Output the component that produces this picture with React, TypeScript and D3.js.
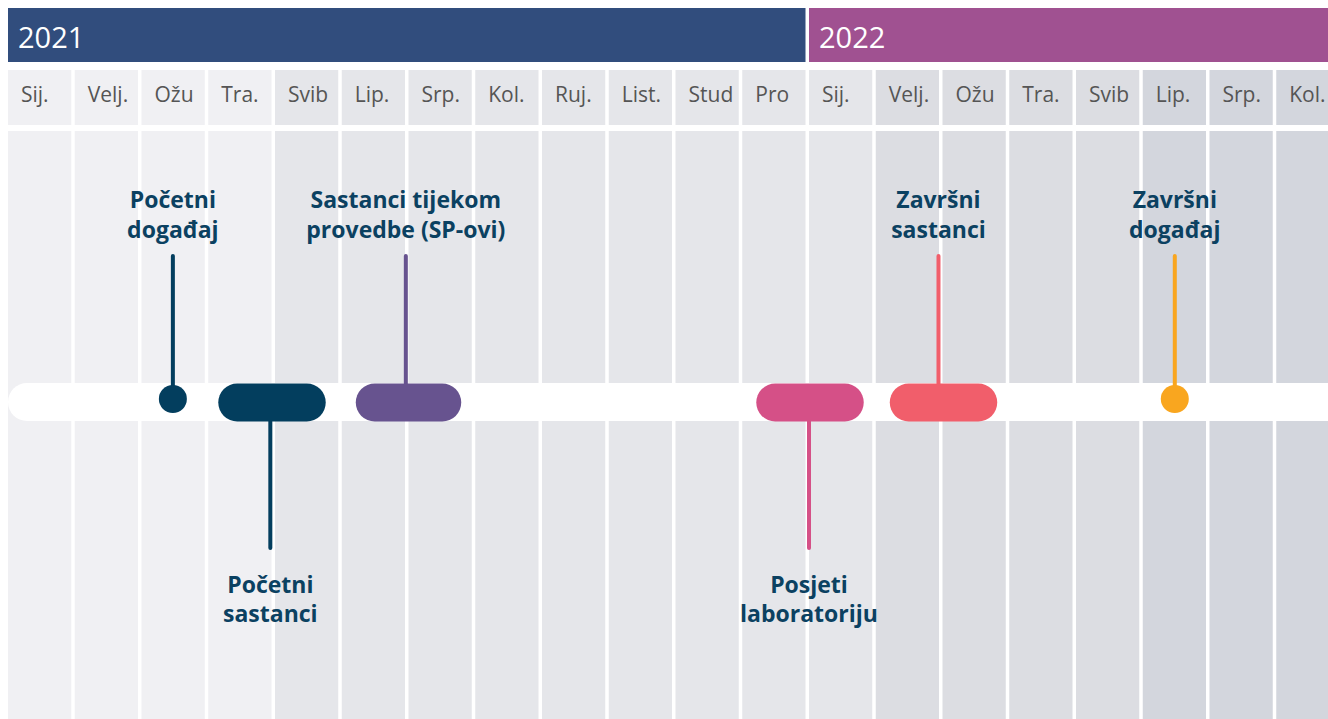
import React, { useLayoutEffect } from 'react';
import * as d3 from 'd3';

const months = ["Sij.", "Velj.", "Ožu", "Tra.", "Svib", "Lip.", "Srp.", "Kol.", "Ruj.", "List.", "Stud", "Pro", "Sij.", "Velj.", "Ožu", "Tra.", "Svib", "Lip.", "Srp.", "Kol."];
const monthShade = [0, 0, 0, 0, 1, 1, 1, 1, 1, 1, 1, 1, 1, 2, 2, 2, 2, 3, 3, 3];
const shadeColors = ["#f0f0f3", "#e5e6ea", "#dcdde2", "#d3d6dd"];

const years = ["2021", "2022"];
const yearStart = [0, 12];
const yearEnd = [12, 20];
const yearColors = ["#314d7d", "#a05191"];

const eventLines = [
  ["Početni", "događaj"],
  ["Početni", "sastanci"],
  ["Sastanci tijekom", "provedbe (SP-ovi)"],
  ["Posjeti", "laboratoriju"],
  ["Završni", "sastanci"],
  ["Završni", "događaj"],
];
// positions in months since Jan 2021
const eventStart = [2.47, 3.15, 5.21, 11.21, 13.21, 17.48];
const eventEnd = [2.47, 4.76, 6.79, 12.82, 14.82, 17.48];
const eventAt = [2.47, 3.93, 5.96, 12.0, 13.94, 17.48];
const eventSide = ["up", "down", "up", "down", "up", "up"];
const eventColors = ["#033e5e", "#033e5e", "#67538f", "#d55087", "#f15e6b", "#f9a61f"];

const W = 1320;
const H = 711;
const PITCH = 66.75;
const GAP = 3.5;
const labelColor = "#0b4161";
const FONT = "'Open Sans', sans-serif";

export default function App() {
  useLayoutEffect(() => {
    document.documentElement.style.overflow = 'hidden';
    document.body.style.margin = '0';
  }, []);

  const x = d3.scaleLinear().domain([0, 20]).range([0, 20 * PITCH]);

  const yearTop = 0, yearBottom = 54;
  const monthTop = 62, monthBottom = 117;
  const bodyTop = 123;
  const bandTop = 375, bandBottom = 413;
  const bandH = bandBottom - bandTop;
  const circleY = 391;
  const circleR = 14;
  const upLineTop = 248;
  const downLineBottom = 540;

  return (
    <svg width={W} height={H} style={{ display: 'block', marginLeft: 8, marginTop: 8 }}>
      {years.map((y, i) => (
        <g key={'y' + i}>
          <rect x={x(yearStart[i])} y={yearTop} width={x(yearEnd[i]) - x(yearStart[i]) - GAP + (i === 1 ? 40 : 0)} height={yearBottom - yearTop} fill={yearColors[i]} />
          <text x={x(yearStart[i]) + 10} y={40} fill="#fff" fontFamily={FONT} fontSize={29}>{y}</text>
        </g>
      ))}
      {months.map((m, i) => (
        <g key={'m' + i}>
          <rect x={x(i)} y={monthTop} width={PITCH - GAP + (i === 19 ? 20 : 0)} height={monthBottom - monthTop} fill={shadeColors[monthShade[i]]} />
          <rect x={x(i)} y={bodyTop} width={PITCH - GAP + (i === 19 ? 20 : 0)} height={H - bodyTop + 10} fill={shadeColors[monthShade[i]]} />
          <text x={x(i) + 13} y={93.5} fill="#555" fontFamily={FONT} fontSize={21}>{m}</text>
        </g>
      ))}
      <rect x={0} y={bandTop} width={W + 40} height={bandH} rx={bandH / 2} fill="#fff" />
      {eventLines.map((lines, i) => {
        const ax = x(eventAt[i]);
        const isPoint = eventStart[i] === eventEnd[i];
        const up = eventSide[i] === 'up';
        const c = eventColors[i];
        const lineY1 = up ? upLineTop : (isPoint ? circleY : bandBottom - 4);
        const lineY2 = up ? (isPoint ? circleY : bandTop + 4) : downLineBottom;
        const base = up ? [200, 230] : [585, 614];
        return (
          <g key={'e' + i}>
            <line x1={ax} x2={ax} y1={lineY1} y2={lineY2} stroke={c} strokeWidth={4} strokeLinecap="round" />
            {isPoint ? (
              <circle cx={x(eventStart[i])} cy={circleY} r={circleR} fill={c} />
            ) : (
              <rect x={x(eventStart[i])} y={bandTop + 0.5} width={x(eventEnd[i]) - x(eventStart[i])} height={bandH} rx={bandH / 2} fill={c} />
            )}
            {lines.map((t, j) => (
              <text key={j} x={ax} y={base[j]} textAnchor="middle" fill={labelColor} fontFamily={FONT} fontWeight={700} fontSize={23}>{t}</text>
            ))}
          </g>
        );
      })}
    </svg>
  );
}
